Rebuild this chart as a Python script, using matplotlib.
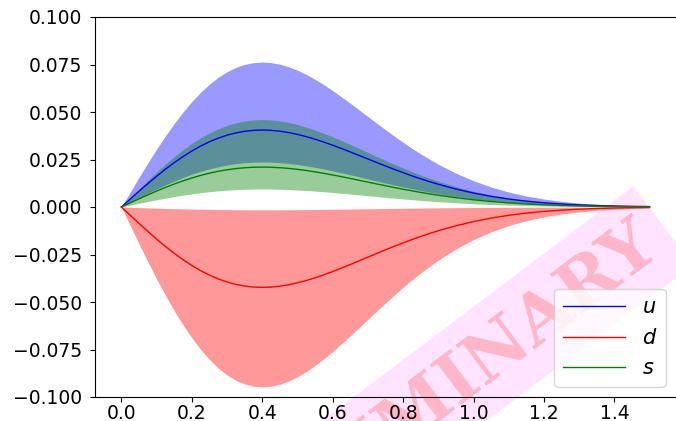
import matplotlib
matplotlib.use("Agg")
import matplotlib.pyplot as plt

# ---- data ----
x = [0.000, 0.025, 0.050, 0.075, 0.100, 0.125, 0.150, 0.175, 0.200, 0.225, 0.250, 0.275,
     0.300, 0.325, 0.350, 0.375, 0.400, 0.425, 0.450, 0.475, 0.500, 0.525, 0.550, 0.575,
     0.600, 0.625, 0.650, 0.675, 0.700, 0.725, 0.750, 0.775, 0.800, 0.825, 0.850, 0.875,
     0.900, 0.95, 1.00, 1.05, 1.10, 1.15, 1.20, 1.25, 1.30, 1.35, 1.40, 1.45, 1.50]

u_c = [0, .00416, .00828, .01230, .01618, .01987, .02334, .02655, .02946, .03206, .03433, .03624,
       .03780, .03900, .03984, .04034, .04050, .04035, .03989, .03918, .03821, .03704, .03567, .03416,
       .03252, .03078, .02898, .02713, .02527, .02342, .02159, .01980, .01808, .01641, .01484, .01335,
       .01196, .00945, .00733, .00559, .00418, .00308, .00223, .00158, .00110, .00076, .00051, .00034, .00022]
u_lo = [0, .00244, .00485, .00720, .00947, .01163, .01366, .01554, .01724, .01876, .02009, .02121,
        .02212, .02282, .02332, .02361, .02370, .02361, .02334, .02293, .02236, .02168, .02087, .01999,
        .01903, .01801, .01696, .01588, .01479, .01370, .01263, .01159, .01058, .00961, .00868, .00781,
        .00700, .00553, .00429, .00327, .00245, .00180, .00130, .00092, .00064, .00044, .00030, .00020, .00013]
u_hi = [0, .00784, .01560, .02318, .03048, .03744, .04397, .05001, .05551, .06041, .06467, .06828,
        .07122, .07348, .07506, .07599, .07630, .07601, .07516, .07380, .07199, .06978, .06721, .06435,
        .06126, .05799, .05459, .05111, .04761, .04412, .04068, .03731, .03405, .03092, .02796, .02516,
        .02252, .01780, .01382, .01053, .00788, .00580, .00420, .00298, .00208, .00143, .00096, .00064, .00042]

d_c = [0, -.00435, -.00865, -.01285, -.01690, -.02076, -.02438, -.02773, -.03077, -.03349, -.03585, -.03785,
       -.03948, -.04073, -.04161, -.04213, -.04230, -.04214, -.04167, -.04092, -.03991, -.03869, -.03726, -.03568,
       -.03396, -.03215, -.03027, -.02834, -.02640, -.02446, -.02255, -.02068, -.01888, -.01714, -.01550, -.01395,
       -.01249, -.00987, -.00766, -.00584, -.00437, -.00321, -.00233, -.00165, -.00115, -.00079, -.00053, -.00036, -.00023]
d_lo = [0, -.00974, -.01937, -.02877, -.03783, -.04647, -.05458, -.06208, -.06889, -.07497, -.08027, -.08475,
        -.08839, -.09120, -.09317, -.09432, -.09470, -.09434, -.09328, -.09160, -.08935, -.08661, -.08341, -.07987,
        -.07603, -.07197, -.06776, -.06344, -.05909, -.05476, -.05048, -.04631, -.04226, -.03838, -.03470, -.03122,
        -.02796, -.02209, -.01715, -.01307, -.00978, -.00720, -.00521, -.00369, -.00258, -.00177, -.00119, -.00080, -.00052]
d_hi = [0, -.00015, -.00031, -.00046, -.00060, -.00074, -.00086, -.00098, -.00109, -.00119, -.00127, -.00134,
        -.00140, -.00144, -.00148, -.00149, -.00150, -.00149, -.00148, -.00145, -.00142, -.00137, -.00132, -.00127,
        -.00120, -.00114, -.00107, -.00100, -.00094, -.00087, -.00080, -.00073, -.00067, -.00061, -.00055, -.00049,
        -.00044, -.00035, -.00027, -.00021, -.00015, -.00011, -.00008, -.00006, -.00004, -.00003, -.00002, -.00001, -.00001]

s_c = [0, .00216, .00429, .00638, .00839, .01030, .01210, .01377, .01528, .01663, .01780, .01879,
       .01960, .02022, .02066, .02092, .02100, .02092, .02069, .02031, .01981, .01921, .01850, .01771,
       .01686, .01596, .01503, .01407, .01310, .01214, .01120, .01027, .00937, .00851, .00769, .00692,
       .00620, .00490, .00380, .00290, .00217, .00160, .00116, .00082, .00057, .00039, .00026, .00018, .00012]
s_lo = [0, .00098, .00194, .00289, .00380, .00466, .00547, .00623, .00691, .00752, .00805, .00850,
        .00887, .00915, .00935, .00946, .00950, .00946, .00936, .00919, .00896, .00869, .00837, .00801,
        .00763, .00722, .00680, .00636, .00593, .00549, .00506, .00465, .00424, .00385, .00348, .00313,
        .00280, .00222, .00172, .00131, .00098, .00072, .00052, .00037, .00026, .00018, .00012, .00008, .00005]
s_hi = [0, .00473, .00941, .01397, .01838, .02257, .02651, .03015, .03347, .03642, .03899, .04117,
        .04294, .04430, .04525, .04582, .04600, .04583, .04531, .04450, .04340, .04207, .04052, .03880,
        .03693, .03496, .03291, .03082, .02870, .02660, .02452, .02249, .02053, .01864, .01685, .01517,
        .01358, .01073, .00833, .00635, .00475, .00350, .00253, .00179, .00125, .00086, .00058, .00039, .00025]

labels = ["$u$", "$d$", "$s$"]
xticks = [0.0, 0.2, 0.4, 0.6, 0.8, 1.0, 1.2, 1.4]
yticks = [-0.100, -0.075, -0.050, -0.025, 0.000, 0.025, 0.050, 0.075, 0.100]
watermark = "PRELIMINARY"

# ---- figure ----
W, H = 676, 421
fig = plt.figure(figsize=(W / 100, H / 100), dpi=100)
ax = fig.add_axes([95 / W, 24 / H, 581 / W, 380 / H])

ax.fill_between(x, u_lo, u_hi, color="blue", alpha=0.4, linewidth=0, zorder=1)
ax.fill_between(x, d_lo, d_hi, color="red", alpha=0.4, linewidth=0, zorder=1)
ax.fill_between(x, s_lo, s_hi, color="green", alpha=0.4, linewidth=0, zorder=1)
ax.plot(x, u_c, color="blue", lw=1.0, label=labels[0], zorder=2)
ax.plot(x, d_c, color="red", lw=1.0, label=labels[1], zorder=2)
ax.plot(x, s_c, color="green", lw=1.0, label=labels[2], zorder=2)

ax.set_ylim(-0.1, 0.1)
ax.set_xlim(-0.075, 1.575)
ax.set_xticks(xticks)
ax.set_yticks(yticks)
ax.tick_params(axis="y", labelsize=13.5, pad=5.5)
ax.tick_params(axis="x", labelsize=13.5, pad=1.5)
ax.spines["right"].set_visible(False)

ax.legend(loc="lower right", fontsize=15, handlelength=3)

ax.text(420 / W, 1 - 409 / H, watermark, transform=fig.transFigure,
        family="DejaVu Serif", fontweight="bold", fontsize=50, color="#ffb6c8",
        rotation=37, ha="center", va="center", rotation_mode="anchor",
        zorder=1.5, clip_on=False,
        bbox=dict(facecolor=(1.0, 0.0, 1.0, 0.11), edgecolor="none", pad=11.5))

fig.savefig("out.png", dpi=100)
